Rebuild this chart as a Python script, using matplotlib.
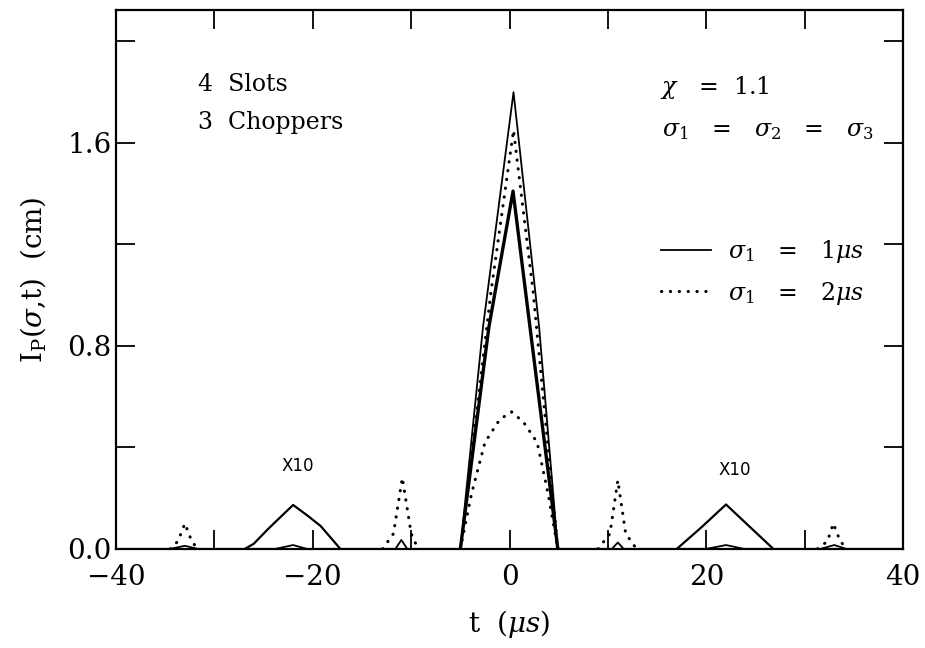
import matplotlib
matplotlib.use("Agg")
import matplotlib.pyplot as plt
import numpy as np

plt.rcParams['font.family'] = ['DejaVu Serif']
plt.rcParams['mathtext.fontset'] = 'dejavuserif'

nan = np.nan

# sigma1 = 1 us, thin solid (outer central peak + small satellite bumps)
solid_t = [-40, -34.5, -33.0, -31.7, -23.8, -22.0, -20.6, -11.6, -11.0, -10.4,
           -5.0, -2.7, 0.4, 3.0, 4.9, 10.4, 11.0, 11.6, 20.0, 22.0, 23.8,
           31.6, 33.0, 34.2, 40]
solid_y = [0, 0, 0.012, 0, 0, 0.015, 0, 0, 0.035, 0,
           0, 0.875, 1.80, 0.875, 0, 0, 0.025, 0, 0, 0.015, 0,
           0, 0.015, 0, 0]

# inner central peak, heavy solid
solid2_t = [-5.0, -2.1, 0.35, 2.07, 4.9]
solid2_y = [0, 0.875, 1.41, 0.875, 0]

# satellites magnified x10
x10_t = [-26.9, -26.0, -24.5, -22.0, -20.5, -19.2, -17.2, nan,
         17.0, 19.5, 22.0, 23.5, 26.8]
x10_y = [0, 0.02, 0.08, 0.173, 0.13, 0.09, 0, nan,
         0, 0.085, 0.175, 0.12, 0]

# sigma1 = 2 us, dotted (upper central peak + satellites)
dot_t = [-34.5, -33.7, -33.0, -32.3, -31.7, nan,
         -12.9, -11.8, -10.9, -10.0, -9.3, nan,
         -5.0, -1.9, 0.4, 2.4, 4.9, nan,
         9.0, 10.2, 11.0, 11.8, 12.9, nan,
         31.3, 32.3, 32.9, 33.6, 34.3]
dot_y = [0, 0.03, 0.10, 0.03, 0, nan,
         0, 0.06, 0.28, 0.06, 0, nan,
         0, 1.01, 1.65, 1.01, 0, nan,
         0, 0.06, 0.27, 0.06, 0, nan,
         0, 0.03, 0.10, 0.03, 0]

# lower central dotted peak
dot2_t = [-5.0, -3.85, -2.5, -1.0, 0.2, 1.4, 2.8, 3.9, 4.9]
dot2_y = [0, 0.22, 0.42, 0.51, 0.54, 0.50, 0.42, 0.22, 0]

fig = plt.figure(figsize=(9.25, 6.48), dpi=100)
ax = fig.add_axes([0.1254, 0.153, 0.851, 0.8316])

dots = dict(color='black', linewidth=2.2, linestyle=(0, (0.1, 2.8)),
            dash_capstyle='round')

l1, = ax.plot(solid_t, solid_y, color='black', linewidth=1.3)
ax.plot(solid2_t, solid2_y, color='black', linewidth=2.4)
ax.plot(x10_t, x10_y, color='black', linewidth=1.6)
l2, = ax.plot(dot_t, dot_y, **dots)
ax.plot(dot2_t, dot2_y, **dots)

ax.set_xlim(-40, 40)
ax.set_ylim(0, 2.124)
ax.set_xticks([-40, -20, 0, 20, 40])
ax.set_xticks([-30, -10, 10, 30], minor=True)
ax.set_yticks([0.0, 0.8, 1.6])
ax.set_yticks([0.4, 1.2, 2.0], minor=True)
ax.set_yticklabels(['0.0', '0.8', '1.6'])
ax.set_xticklabels(['\u221240', '\u221220', '0', '20', '40'])
ax.tick_params(which='both', direction='in', top=True, right=True,
               length=14, width=1.3)
ax.tick_params(axis='x', which='both', labelsize=20, pad=11)
ax.tick_params(axis='y', which='both', labelsize=20, pad=3)
for s in ax.spines.values():
    s.set_linewidth(1.6)

ax.set_xlabel(r't  ($\mu s$)', fontsize=20, labelpad=12)
ax.set_ylabel(r'I$_\mathrm{P}$($\sigma$,t)  (cm)', fontsize=20, labelpad=14)

ax.text(-31.7, 1.83, '4  Slots', fontsize=17, va='center')
ax.text(-31.7, 1.68, '3  Choppers', fontsize=17, va='center')
ax.text(15.3, 1.82, r'$\chi$   =  1.1', fontsize=17, va='center')
ax.text(15.5, 1.65, r'$\sigma_1$   =   $\sigma_2$   =   $\sigma_3$',
        fontsize=17, va='center')
ax.text(-21.5, 0.327, 'X10', fontsize=12, ha='center', va='center',
        family='DejaVu Sans')
ax.text(22.9, 0.31, 'X10', fontsize=12, ha='center', va='center',
        family='DejaVu Sans')

ax.legend([l1, l2], [r'$\sigma_1$   =   $1\mu s$', r'$\sigma_1$   =   $2\mu s$'],
          loc='upper left', bbox_to_anchor=(0.6925, 0.576), frameon=False,
          fontsize=17, handlelength=2.1, handletextpad=0.75, borderpad=0,
          borderaxespad=0, labelspacing=0.6)

fig.savefig('out.png', dpi=100)
